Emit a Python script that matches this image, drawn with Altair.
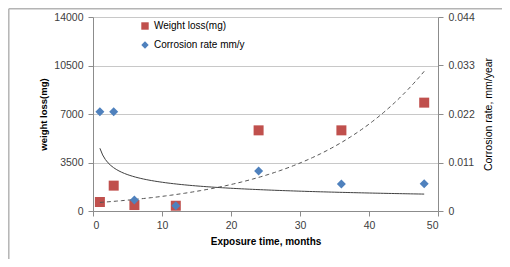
import altair as alt
import numpy as np
import pandas as pd

months = [1, 3, 6, 12, 24, 36, 48]
weight_loss = [650, 1830, 430, 380, 5820, 5820, 7820]
corrosion = [0.0225, 0.0225, 0.0025, 0.0012, 0.0091, 0.0061, 0.0062]
series_names = ["Weight loss(mg)", "Corrosion rate mm/y"]
x_ticks = [0, 10, 20, 30, 40, 50]
left_ticks = [0, 3500, 7000, 10500, 14000]
right_ticks = [0, 0.011, 0.022, 0.033, 0.044]

wl = pd.DataFrame({"months": months, "val": weight_loss, "series": series_names[0]})
cr = pd.DataFrame({"months": months, "val": corrosion, "series": series_names[1]})

# Excel-style trendlines fitted from the data
b, a = np.polyfit(months, np.log(weight_loss), 1)
xs = np.linspace(min(months), max(months), 120)
exp_trend = pd.DataFrame({"months": xs, "val": np.exp(a) * np.exp(b * xs)})
pb, pa = np.polyfit(np.log(months), np.log(corrosion), 1)
pow_trend = pd.DataFrame({"months": xs, "val": np.exp(pa) * xs ** pb})

FONT = "Liberation Sans"

x_enc = alt.X(
    "months:Q",
    scale=alt.Scale(domain=[0, 50], nice=False),
    axis=alt.Axis(values=x_ticks, title="Exposure time, months", grid=False,
                  labelPadding=4, titlePadding=6, titleFontWeight="bold",
                  titleFontSize=10),
)

legend = alt.Legend(title=None, orient="none", legendX=47, legendY=4,
                    symbolSize=55, labelFontSize=10, rowPadding=9,
                    labelFont=FONT, labelColor="#000000", symbolStrokeWidth=0)
color = alt.Color("series:N", scale=alt.Scale(domain=series_names, range=["#C0504D", "#4F81BD"]),
                  legend=legend)
shape = alt.Shape("series:N", scale=alt.Scale(domain=series_names, range=["square", "diamond"]),
                  legend=legend)

y_left = alt.Y("val:Q", scale=alt.Scale(domain=[0, 14000], nice=False),
               axis=alt.Axis(values=left_ticks, title="weight  loss(mg)", orient="left",
                             format="d", labelPadding=5, titlePadding=5,
                             titleFontWeight="bold", titleFontSize=9.5, grid=True))
y_right = alt.Y("val:Q", scale=alt.Scale(domain=[0, 0.044], nice=False),
                axis=alt.Axis(values=right_ticks, title="Corrosion rate, mm/year", orient="right",
                              labelExpr="datum.value == 0 ? '0' : format(datum.value, '.3f')",
                              labelPadding=5, titlePadding=9, titleAngle=270, titleBaseline="top",
                              titleFontWeight="normal", titleFontSize=10.5, grid=False))

left_pts = alt.Chart(wl).mark_point(filled=True, size=100, opacity=1).encode(
    x=x_enc, y=y_left, color=color, shape=shape)
left_line = alt.Chart(exp_trend).mark_line(color="#555555", strokeWidth=1, strokeDash=[4, 3]).encode(
    x="months:Q", y="val:Q")
left = alt.layer(left_pts, left_line)

right_line = alt.Chart(pow_trend).mark_line(color="#404040", strokeWidth=1).encode(
    x="months:Q", y="val:Q")
right_pts = alt.Chart(cr).mark_point(filled=True, size=81, opacity=1).encode(
    x=x_enc, y=y_right, color=color, shape=shape)
right = alt.layer(right_line, right_pts)

one = pd.DataFrame({"a": [0]})
border_left = alt.Chart(one).mark_rule(color="#B4B4B4", strokeWidth=1.5).encode(
    x=alt.value(-84.2), y=alt.value(-8.2), y2=alt.value(242))
border_top = alt.Chart(one).mark_rule(color="#B4B4B4", strokeWidth=1.5).encode(
    x=alt.value(-84.2), x2=alt.value(409), y=alt.value(-8.2))

chart = alt.layer(border_left, border_top, left, right).resolve_scale(y="independent").properties(
    width=345, height=194,
    autosize=alt.AutoSizeParams(type="none"),
    padding={"left": 85, "top": 9, "right": 64, "bottom": 48},
).configure_axis(
    labelFont=FONT, titleFont=FONT, labelFontSize=10.5, labelColor="#404040",
    titleColor="#000000", domainColor="#8C8C8C", tickColor="#8C8C8C", tickSize=5,
    gridColor="#C8C8C8",
).configure_view(strokeWidth=0)

chart.save("out.html", embed_options={"renderer": "svg", "actions": False})
